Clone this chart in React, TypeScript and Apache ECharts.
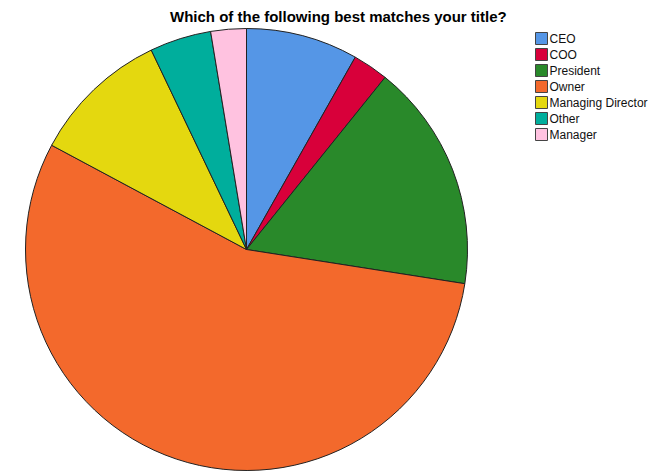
import React, { useEffect, useRef } from "react";
import * as echarts from "echarts";

const categories = ["CEO", "COO", "President", "Owner", "Managing Director", "Other", "Manager"];
const values = [8.2, 2.6, 16.7, 55.4, 10.1, 4.5, 2.6];
const colors = ["#5596E6", "#D8003A", "#29892A", "#F3692C", "#E4D80F", "#00AE9C", "#FFC2E0"];
const titleText = "Which of the following best matches your title?";

export default function App() {
  const ref = useRef<HTMLDivElement>(null);
  useEffect(() => {
    if (!ref.current) return;
    const chart = echarts.init(ref.current, null, { renderer: "svg" });
    chart.setOption({
      animation: false,
      backgroundColor: "#ffffff",
      title: {
        text: titleText,
        left: 165,
        top: 4,
        textStyle: { fontFamily: "Liberation Sans, Arial", fontWeight: "bold", fontSize: 15, color: "#000" },
      },
      legend: {
        orient: "vertical",
        left: 530,
        top: 27,
        itemWidth: 12,
        itemHeight: 12,
        itemGap: 3,
        icon: "rect",
        data: categories,
        textStyle: { fontFamily: "Liberation Sans, Arial", fontSize: 12, color: "#111", padding: [0, 0, 0, -3] },
        itemStyle: { borderColor: "#444", borderWidth: 1 },
      },
      series: [
        {
          type: "pie",
          center: [246.5, 249.5],
          radius: 221,
          startAngle: 90,
          clockwise: true,
          label: { show: false },
          labelLine: { show: false },
          emphasis: { disabled: true },
          itemStyle: { borderColor: "#222", borderWidth: 1 },
          data: categories.map((c, i) => ({ name: c, value: values[i], itemStyle: { color: colors[i] } })),
        },
      ],
    });
    return () => chart.dispose();
  }, []);
  return <div ref={ref} style={{ position: "fixed", left: 0, top: 0, width: 660, height: 471 }} />;
}
